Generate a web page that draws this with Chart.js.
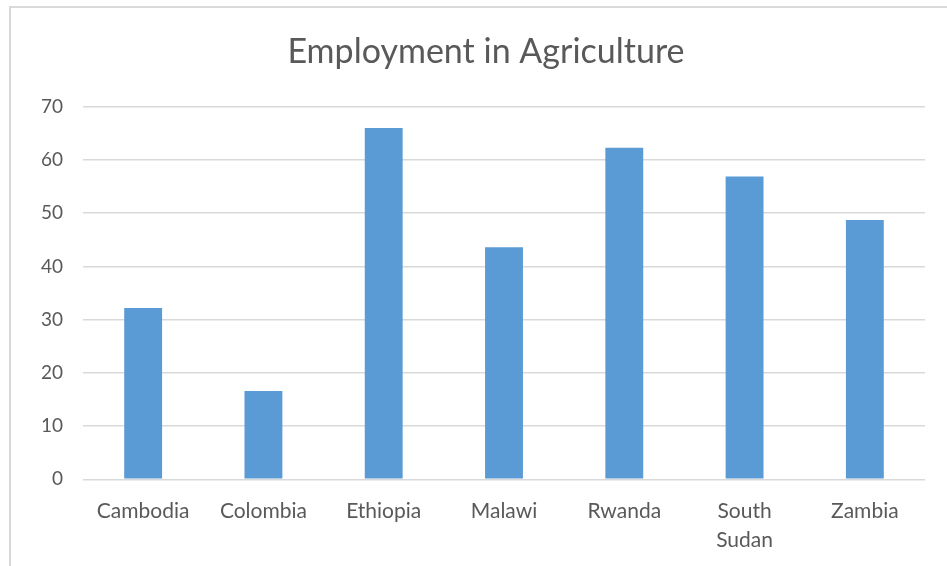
<!DOCTYPE html>
<html>
<head>
<meta charset="utf-8">
<script src="https://cdn.jsdelivr.net/npm/chart.js@4.4.1/dist/chart.umd.min.js"></script>
<style>
  html, body { margin: 0; padding: 0; background: #fff; overflow: hidden; }
  #frame { position: absolute; left: 9px; top: 6px; width: 1000px; height: 700px; border: 2px solid #d9d9d9; }
  #wrap { position: absolute; left: 0; top: 0; width: 947px; height: 566px; }
</style>
</head>
<body>
<div id="frame"></div>
<div id="wrap"><canvas id="chart" width="947" height="566"></canvas></div>
<script>
const chartTitle = 'Employment in Agriculture';
const countries = ['Cambodia', 'Colombia', 'Ethiopia', 'Malawi', 'Rwanda', ['South', 'Sudan'], 'Zambia'];
const employment = [32.2, 16.6, 66.0, 43.6, 62.3, 56.9, 48.7];
const yMin = 0;
const yMax = 70;
const yStep = 10;

const grey = '#595959';
const gridGrey = '#d9d9d9';

// title sits centred on the outer frame, not on the canvas, so draw it here
const frameTitle = {
  id: 'frameTitle',
  afterDraw(chart) {
    const c = chart.ctx;
    c.save();
    c.font = '34px Lato';
    c.fillStyle = grey;
    c.textAlign = 'center';
    c.textBaseline = 'middle';
    c.fillText(chartTitle, 486, 52);
    c.restore();
  }
};

const ctx = document.getElementById('chart').getContext('2d');
const chart = new Chart(ctx, {
  type: 'bar',
  data: {
    labels: countries,
    datasets: [{
      label: chartTitle,
      data: employment,
      backgroundColor: '#5b9bd5',
      borderColor: '#5b9bd5',
      borderWidth: 0,
      categoryPercentage: 1,
      barPercentage: 0.315
    }]
  },
  options: {
    responsive: false,
    animation: false,
    layout: { padding: { left: 0, right: 22, top: 106.7, bottom: 0 } },
    plugins: {
      legend: { display: false },
      tooltip: { enabled: false },
      title: { display: false }
    },
    scales: {
      x: {
        grid: { display: false, drawTicks: false },
        border: { display: false },
        ticks: {
          color: grey,
          font: { family: 'Lato', size: 21, lineHeight: 1.4 },
          padding: 17,
          maxRotation: 0,
          autoSkip: false
        },
        afterFit: (scale) => { scale.height = 86.7; }
      },
      y: {
        min: yMin,
        max: yMax,
        grid: { color: gridGrey, lineWidth: 1.5, drawTicks: false },
        border: { display: false },
        ticks: {
          stepSize: yStep,
          color: grey,
          font: { family: 'Lato', size: 19 },
          padding: 20
        },
        afterFit: (scale) => { scale.width = 83; }
      }
    }
  },
  plugins: [frameTitle]
});
</script>
</body>
</html>
